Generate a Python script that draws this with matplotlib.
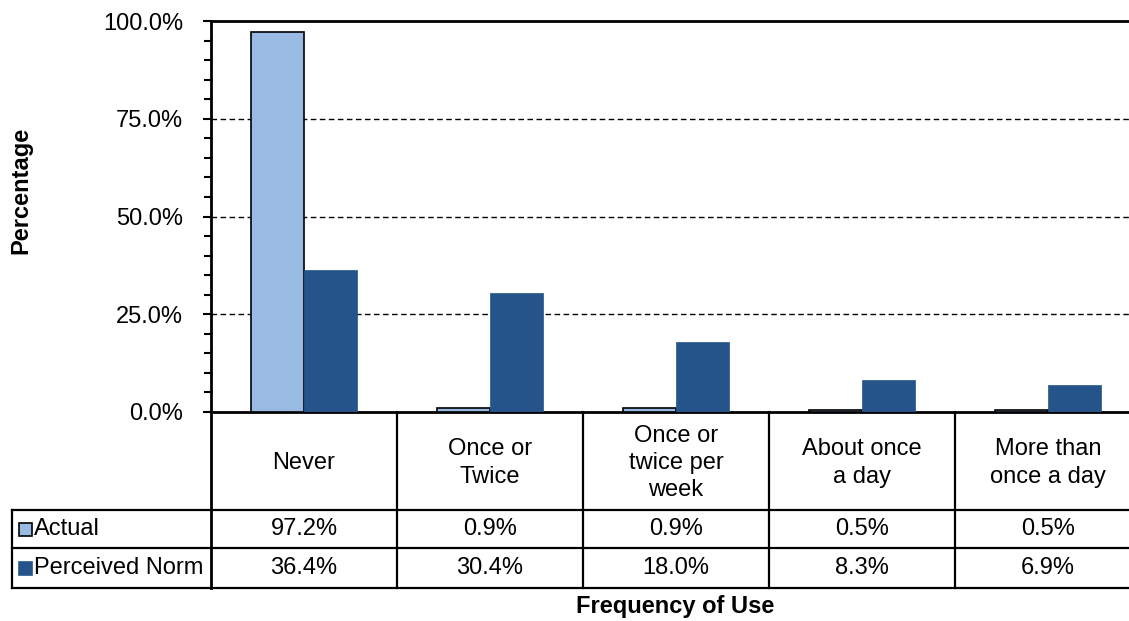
import matplotlib
matplotlib.use("Agg")
import matplotlib.pyplot as plt
from matplotlib.transforms import blended_transform_factory
from matplotlib.ticker import MultipleLocator, FuncFormatter
from matplotlib.lines import Line2D
from matplotlib.patches import Rectangle
import numpy as np

plt.rcParams['font.family'] = ['Liberation Sans', 'DejaVu Sans']

categories = ["Never", "Once or\nTwice", "Once or\ntwice per\nweek", "About once\na day", "More than\nonce a day"]
series_names = ["Actual", "Perceived Norm"]
actual = [97.2, 0.9, 0.9, 0.5, 0.5]
perceived = [36.4, 30.4, 18.0, 8.3, 6.9]
yticks = [0, 25, 50, 75, 100]

light = "#98BAE3"
dark = "#25548A"

W, H = 1129, 621
fig = plt.figure(figsize=(W / 100, H / 100), dpi=100)

def fx(px):
    return px / W

def fy(py):
    return 1 - py / H

left_px, right_px, top_px, bot_px = 211, 1141, 21, 412
ax = fig.add_axes([fx(left_px), fy(bot_px), fx(right_px) - fx(left_px), fy(top_px) - fy(bot_px)])

x = np.arange(len(categories))
bw = 0.285
ax.bar(x - bw / 2, actual, bw, color=light, edgecolor="black", linewidth=1.2, zorder=3)
ax.bar(x + bw / 2, perceived, bw, color=dark, edgecolor=dark, linewidth=0.5, zorder=3)

fs = 17
ax.set_xlim(-0.5, len(categories) - 0.5)
ax.set_ylim(0, 100)
ax.set_yticks(yticks)
ax.yaxis.set_minor_locator(MultipleLocator(5))
ax.yaxis.set_major_formatter(FuncFormatter(lambda v, p: f"{v:.1f}%"))
ax.tick_params(axis='y', which='major', direction='out', length=6, width=1.5, labelsize=fs, pad=14)
ax.tick_params(axis='y', which='minor', direction='out', length=5, width=1.5)
ax.set_xticks([])
for y in yticks[1:-1]:
    ax.axhline(y, color="black", linestyle=(0, (4, 2.5)), linewidth=1.0, zorder=1)
for s in ["top", "left", "bottom"]:
    ax.spines[s].set_linewidth(2)
    ax.spines[s].set_color("black")
ax.spines["right"].set_visible(False)

# Data table below
tr = blended_transform_factory(ax.transData, fig.transFigure)
row_y = [412, 510, 548, 588]
lw = 1.6
for i in range(len(categories) + 1):
    xv = i - 0.5
    fig.add_artist(Line2D([xv, xv], [fy(412), fy(588)], transform=tr, color="black", lw=lw if i > 0 else 2))
for py in row_y[1:]:
    fig.add_artist(Line2D([fx(12), fx(1141)], [fy(py), fy(py)], transform=fig.transFigure, color="black", lw=lw))
fig.add_artist(Line2D([fx(12), fx(12)], [fy(510), fy(588)], transform=fig.transFigure, color="black", lw=lw))

for i, cat in enumerate(categories):
    fig.text(i, fy((412 + 510) / 2 + 2), cat, transform=tr, ha="center", va="center", fontsize=fs,
             linespacing=1.32)
    fig.text(i, fy((510 + 548) / 2), f"{actual[i]:.1f}%", transform=tr, ha="center", va="center", fontsize=fs)
    fig.text(i, fy((548 + 588) / 2), f"{perceived[i]:.1f}%", transform=tr, ha="center", va="center", fontsize=fs)

# legend keys
for (py0, py1), name, col, ec in [((510, 548), series_names[0], light, "black"),
                                  ((548, 588), series_names[1], dark, dark)]:
    cy = (py0 + py1) / 2
    fig.add_artist(Rectangle((fx(19), fy(cy + 7)), fx(13), fy(cy - 6) - fy(cy + 7),
                             transform=fig.transFigure, facecolor=col, edgecolor=ec, lw=1.2))
    fig.text(fx(34), fy(cy), name, ha="left", va="center", fontsize=fs)

fig.text(fx(21), fy(190), "Percentage", rotation=90, ha="center", va="center", fontsize=fs, fontweight="bold")
fig.text(fx(675), fy(607), "Frequency of Use", ha="center", va="center", fontsize=fs, fontweight="bold")

fig.savefig("out.png", dpi=100)
